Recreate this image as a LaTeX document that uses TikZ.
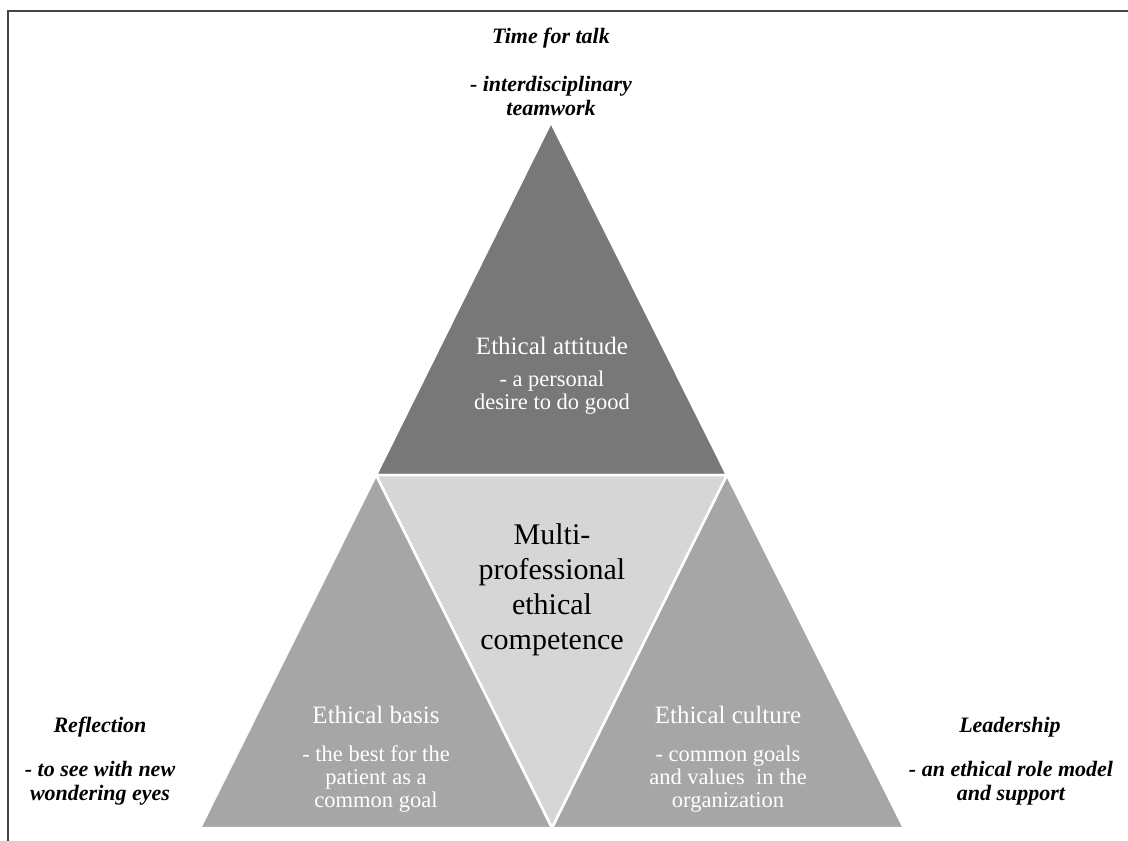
\documentclass[tikz,border=0pt]{standalone}
\usepackage{fontspec}
\setmainfont{Liberation Serif}
\usetikzlibrary{positioning}

\definecolor{topgrey}{gray}{0.47}
\definecolor{sidegrey}{gray}{0.65}
\definecolor{coregrey}{gray}{0.84}
\definecolor{framegrey}{gray}{0.27}

\tikzset{
  piece/.style={draw=white, line width=2.5pt, line join=miter},
  head/.style={text=white, font=\fontsize{25}{28}\selectfont},
  sub/.style={text=white, align=center, font=\fontsize{22.5}{23}\selectfont},
  core/.style={align=center, font=\fontsize{30}{35}\selectfont},
  sidehead/.style={font=\bfseries\itshape\fontsize{22}{25}\selectfont},
  sidesub/.style={align=center, font=\bfseries\itshape\fontsize{22}{24.5}\selectfont},
}

\begin{document}
\begin{tikzpicture}[x=1pt, y=-1pt]
    \useasboundingbox (0,0) rectangle (1128,841);

    % frame
    \draw[framegrey, line width=2pt] (8,841) -- (8,11) -- (1128,11);

    % corners of the pyramid
    \coordinate (apex) at (551,122);
    \coordinate (botL) at (200,828);
    \coordinate (botR) at (904,828);
    \coordinate (midL) at (376,475);
    \coordinate (midR) at (727,475);
    \coordinate (midB) at (552,828);

    \filldraw[piece, fill=topgrey]  (apex) -- (midL) -- (midR) -- cycle;
    \filldraw[piece, fill=coregrey] (midL) -- (midR) -- (midB) -- cycle;
    \filldraw[piece, fill=sidegrey] (midL) -- (botL) -- (midB) -- cycle;
    \filldraw[piece, fill=sidegrey] (midR) -- (midB) -- (botR) -- cycle;

    % inside
    \node[head] (attitude) at (552,346) {Ethical attitude};
    \node[sub] (attitudesub) at (552,393) {- a personal\\desire to do good};

    \node[core] (competence) at (552,590) {Multi-\\professional\\ethical\\competence};

    \node[head] (basis) at (376,715) {Ethical basis};
    \node[sub] (basissub) at (376,779) {- the best for the\\patient as a\\common goal};

    \node[head] (culture) at (728,715) {Ethical culture};
    \node[sub] (culturesub) at (728,779) {- common goals\\and values\ \ in the\\organization};

    % outside
    \node[sidehead] (talk) at (551,38) {Time for talk};
    \node[sidesub] (talksub) at (551,96) {- interdisciplinary\\teamwork};

    \node[sidehead] (reflection) at (100,727) {Reflection};
    \node[sidesub] (reflectionsub) at (100,783) {- to see with new\\wondering eyes};

    \node[sidehead] (leadership) at (1010,727) {Leadership};
    \node[sidesub] (leadershipsub) at (1011,783) {- an ethical role model\\and support};

\end{tikzpicture}
\end{document}
